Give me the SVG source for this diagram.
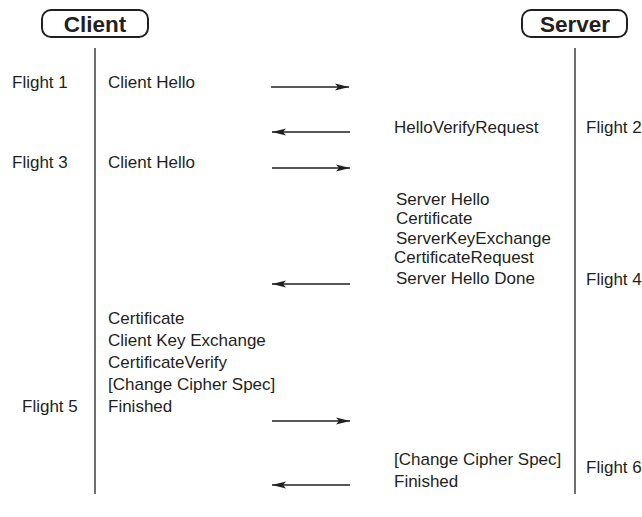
<svg xmlns="http://www.w3.org/2000/svg" width="642" height="517" viewBox="0 0 642 517">
  <defs>
    <marker id="head" viewBox="0 0 14 8" refX="14" refY="4" markerWidth="14" markerHeight="8" markerUnits="userSpaceOnUse" orient="auto">
      <path d="M0,0.5 L14,4 L0,7.5 L3,4 Z" fill="#231f20"/>
    </marker>
    <style>
      .box { fill: #fff; stroke: #231f20; stroke-width: 2; }
      .title { font-family: "Liberation Sans", Arial, sans-serif; font-weight: bold; font-size: 22.5px; fill: #231f20; text-anchor: middle; }
      .life { stroke: #231f20; stroke-width: 1.3; fill: none; }
      .msg { stroke: #231f20; stroke-width: 1.4; fill: none; marker-end: url(#head); }
      text.t { font-family: "Liberation Sans", Arial, sans-serif; font-size: 17px; fill: #231f20; }
    </style>
  </defs>
  <rect width="642" height="517" fill="#fff"/>

  <!-- participants -->
  <g id="client">
    <rect class="box" x="42" y="10" width="106" height="27" rx="9"/>
    <text class="title" x="95" y="31.5">Client</text>
    <line class="life" x1="95" y1="48" x2="95" y2="494"/>
  </g>
  <g id="server">
    <rect class="box" x="522" y="10" width="105" height="27" rx="9"/>
    <text class="title" x="575" y="31.5">Server</text>
    <line class="life" x1="575" y1="48" x2="575" y2="494"/>
  </g>

  <!-- flight labels -->
  <g id="flight-labels">
    <text class="t" x="12" y="88">Flight 1</text>
    <text class="t" x="586" y="133">Flight 2</text>
    <text class="t" x="12" y="168">Flight 3</text>
    <text class="t" x="586" y="285">Flight 4</text>
    <text class="t" x="22" y="412">Flight 5</text>
    <text class="t" x="586" y="473">Flight 6</text>
  </g>

  <!-- message texts -->
  <g id="flight1-msg">
    <text class="t" x="108" y="88">Client Hello</text>
  </g>
  <g id="flight2-msg">
    <text class="t" x="394" y="133">HelloVerifyRequest</text>
  </g>
  <g id="flight3-msg">
    <text class="t" x="108" y="168">Client Hello</text>
  </g>
  <g id="flight4-msg">
    <text class="t" x="396" y="205">Server Hello</text>
    <text class="t" x="396" y="224">Certificate</text>
    <text class="t" x="396" y="244">ServerKeyExchange</text>
    <text class="t" x="394" y="263">CertificateRequest</text>
    <text class="t" x="396" y="284">Server Hello Done</text>
  </g>
  <g id="flight5-msg">
    <text class="t" x="108" y="324">Certificate</text>
    <text class="t" x="108" y="346">Client Key Exchange</text>
    <text class="t" x="108" y="368">CertificateVerify</text>
    <text class="t" x="108" y="390">[Change Cipher Spec]</text>
    <text class="t" x="108" y="412">Finished</text>
  </g>
  <g id="flight6-msg">
    <text class="t" x="394" y="465">[Change Cipher Spec]</text>
    <text class="t" x="394" y="487">Finished</text>
  </g>

  <!-- connectors -->
  <g id="connectors">
    <line class="msg" x1="271" y1="87" x2="349" y2="87"/>
    <line class="msg" x1="350" y1="132" x2="272" y2="132"/>
    <line class="msg" x1="272" y1="168" x2="350" y2="168"/>
    <line class="msg" x1="350" y1="284" x2="272" y2="284"/>
    <line class="msg" x1="272" y1="421" x2="350" y2="421"/>
    <line class="msg" x1="350" y1="485" x2="272" y2="485"/>
  </g>
</svg>
